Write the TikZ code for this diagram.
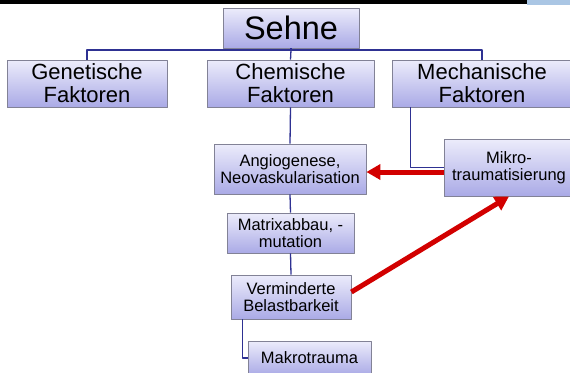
\documentclass[tikz,border=0pt]{standalone}
\usepackage{fontspec}
\setmainfont{Liberation Sans}
\usetikzlibrary{arrows.meta,shadows,calc}
\definecolor{boxtop}{RGB}{236,236,251}
\definecolor{boxbot}{RGB}{170,170,230}
\definecolor{boxline}{RGB}{130,130,150}
\definecolor{linkblue}{RGB}{46,49,146}
\definecolor{arrowred}{RGB}{210,0,0}
\definecolor{logoblue}{RGB}{170,198,228}
\begin{document}
\begin{tikzpicture}[x=1pt,y=-1pt,>={Triangle[length=14pt,width=15pt]}, line join=round]
	\tikzset{box/.style={draw=boxline,line width=0.8pt,top color=boxtop,bottom color=boxbot,align=center,inner sep=0pt,
			drop shadow={shadow xshift=1.2pt,shadow yshift=-1.2pt,opacity=0.35}},
		big/.style={box,font=\fontsize{22}{23}\selectfont,minimum height=47pt},
		small/.style={box,font=\fontsize{16.5}{17.5}\selectfont},
		link/.style={draw=linkblue,line width=1.3pt},
		redarrow/.style={draw=arrowred,line width=5pt,->}}
	\useasboundingbox (0,0) rectangle (570,372);
	\clip (0,0) rectangle (570,372);
	\fill (0,0) rectangle (527,3.5);
	\fill[logoblue] (527,0) rectangle (570,5);
	% Kopf und erste Ebene
	\node[box,font=\fontsize{32.5}{34}\selectfont,minimum width=136pt,minimum height=40pt] (sehne) at (291,28) {Sehne};
	\node[big,minimum width=160pt] (gen) at (87,83.5) {Genetische\\Faktoren};
	\node[big,minimum width=167pt] (chem) at (290.5,83.5) {Chemische\\Faktoren};
	\node[big,minimum width=180pt] (mech) at (482,83.5) {Mechanische\\Faktoren};
	% Kette
	\node[small,minimum width=152pt,minimum height=50pt] (angio) at (290,169) {Angiogenese,\\Neovaskularisation};
	\node[small,minimum width=130pt,minimum height=57pt] (mikro) at (509,167.5) {Mikro-\\traumatisierung};
	\node[small,minimum width=127pt,minimum height=40pt] (matrix) at (290.5,233) {Matrixabbau, -\\mutation};
	\node[small,minimum width=120pt,minimum height=44pt] (verm) at (291,297) {Verminderte\\Belastbarkeit};
	\node[small,minimum width=123pt,minimum height=34pt] (makro) at (309.5,358) {Makrotrauma};
	% Verbindungen
	\draw[link] (sehne.south) -- ++(0,1.5) coordinate (bus) -| (gen.north);
	\draw[link] (bus) -| (mech.north);
	\draw[link] (bus) -- (chem.north);
	\draw[link] (chem.south) -- (angio.north);
	\draw[link] (angio.south) -- (matrix.north);
	\draw[link] (matrix.south) -- (verm.north);
	\draw[link] ($(mech.south west)+(19,0)$) |- (mikro.west);
	\draw[link] ($(verm.south west)+(12,0)$) |- (makro.west);
	\draw[redarrow] ($(mikro.west)+(0,4.5)$) -- ($(angio.east)+(0,3)$);
	\draw[redarrow] ($(verm.east)+(0,-5)$) -- (mikro.south);
\end{tikzpicture}
\end{document}
